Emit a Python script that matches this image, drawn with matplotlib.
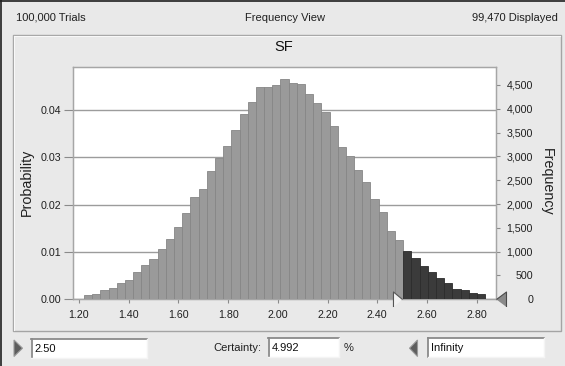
import numpy as np
import matplotlib
matplotlib.use("Agg")
import matplotlib.pyplot as plt
from matplotlib.patches import Rectangle, Polygon
from matplotlib.ticker import FixedLocator, FuncFormatter

# ---------------- data ----------------
trials_text = "100,000 Trials"
view_text = "Frequency View"
displayed_text = "99,470 Displayed"
chart_title = "SF"
displayed_count = 99470
bin_start = 1.2201
bin_width = 0.03293
frequencies = [100, 120, 190, 232, 345, 408, 570, 724, 851, 1055,
               1273, 1519, 1807, 2138, 2314, 2686, 2975, 3220, 3551, 3890,
               4135, 4459, 4459, 4508, 4626, 4542, 4521, 4317, 4121, 3925,
               3631, 3189, 3000, 2706, 2460, 2109, 1829, 1444, 1247, 1023,
               869, 694, 568, 449, 336, 217, 196, 126, 105]
lower_cutoff = 2.50
lower_text = "2.50"
upper_text = "Infinity"
certainty_text = "4.992"
x_ticks = [1.20, 1.40, 1.60, 1.80, 2.00, 2.20, 2.40, 2.60, 2.80]
prob_ticks = [0.00, 0.01, 0.02, 0.03, 0.04]
freq_ticks = [0, 500, 1000, 1500, 2000, 2500, 3000, 3500, 4000, 4500]
x_limits = (1.177, 2.8765)
freq_top = 4884

# ---------------- style ----------------
plt.rcParams['font.family'] = ['Liberation Sans', 'DejaVu Sans']
BG = '#e9e9e9'
W, H = 565, 366
PT = 72 / 100  # points per pixel at dpi 100

fig = plt.figure(figsize=(W / 100, H / 100), dpi=100, facecolor=BG)


def fx(x):
    return x / W


def fy(y):
    return 1 - y / H


def prect(x0, y0, x1, y1, **kw):
    r = Rectangle((fx(x0), fy(y1)), fx(x1) - fx(x0), fy(y0) - fy(y1),
                  transform=fig.transFigure, **kw)
    fig.add_artist(r)
    return r


def pline(xs, ys, **kw):
    fig.add_artist(plt.Line2D([fx(v) for v in xs], [fy(v) for v in ys],
                              transform=fig.transFigure, **kw))


# outer dark border (top and left)
pline([0.5, 0.5], [0, H], color='#202020', lw=1.2)
pline([0, W], [0.5, 0.5], color='#202020', lw=1.2)

# header texts
fig.text(fx(16), fy(18), trials_text, fontsize=8, ha='left', va='center', color='#202020')
fig.text(fx(285), fy(18), view_text, fontsize=8, ha='center', va='center', color='#202020')
fig.text(fx(558), fy(18), displayed_text, fontsize=8, ha='right', va='center', color='#202020')

# chart panel
prect(13, 35, 561, 331, facecolor='none', edgecolor='#a4a4a4', lw=1.0)
pline([14, 560], [36, 36], color='#f8f8f8', lw=0.8)
pline([14, 14], [36, 330], color='#f8f8f8', lw=0.8)
fig.text(fx(284), fy(47), chart_title, fontsize=10.5, ha='center', va='center', color='#101010')

# ---------------- axes ----------------
ax_l, ax_r, ax_t, ax_b = 73.3, 495.7, 66.7, 299.3
ax = fig.add_axes([fx(ax_l), fy(ax_b), fx(ax_r) - fx(ax_l), fy(ax_t) - fy(ax_b)])
ax.set_facecolor('white')
ax2 = ax.twinx()

edges = bin_start + bin_width * np.arange(len(frequencies))
colors = ['#3b3b3b' if e >= lower_cutoff - 1e-3 else '#9a9a9a' for e in edges]
edgecols = ['#2c2c2c' if e >= lower_cutoff - 1e-3 else '#868686' for e in edges]
ax2.bar(edges, frequencies, width=bin_width, align='edge', color=colors,
        edgecolor=edgecols, linewidth=0.6, zorder=3)

ax.set_xlim(*x_limits)
ax2.set_ylim(0, freq_top)
ax.set_ylim(0, freq_top / displayed_count)

ax.xaxis.set_major_locator(FixedLocator(x_ticks))
ax.xaxis.set_major_formatter(FuncFormatter(lambda v, p: f"{v:.2f}"))
ax.yaxis.set_major_locator(FixedLocator(prob_ticks))
ax.yaxis.set_major_formatter(FuncFormatter(lambda v, p: f"{v:.2f}"))
ax2.yaxis.set_major_locator(FixedLocator(freq_ticks))
ax2.yaxis.set_major_formatter(FuncFormatter(lambda v, p: f"{int(round(v)):,}"))

ax.yaxis.grid(True, color='#9c9c9c', lw=1.0, zorder=0)
ax.set_axisbelow(True)

ax.tick_params(axis='y', length=9 * PT, width=0.8, color='#8a8a8a', pad=3 * PT,
               labelsize=7.7, labelcolor='#202020')
ax.tick_params(axis='x', length=4 * PT, width=0.8, color='#8a8a8a', pad=7 * PT,
               labelsize=7.7, labelcolor='#202020')
right_tick_len = 4
right_label_edge = 533
ax2.tick_params(axis='y', length=right_tick_len * PT, width=0.8, color='#8a8a8a',
                pad=(right_label_edge - ax_r - right_tick_len) * PT,
                labelsize=7.7, labelcolor='#202020')
for lbl in ax2.get_yticklabels():
    lbl.set_horizontalalignment('right')

for a in (ax, ax2):
    for s in a.spines.values():
        s.set_color('#a6a6a6')
        s.set_linewidth(0.9)

fig.text(fx(26.7), fy(182.5), "Probability", rotation=90, fontsize=10.3,
         ha='center', va='center', color='#202020')
fig.text(fx(546.7), fy(182), "Frequency", rotation=270, fontsize=10.3,
         ha='center', va='center', color='#202020')

# grabber markers on the axis
right_tri = [(0, 0), (-9, 7.5), (-9, -7.5)]
left_tri = [(0, 0), (10, 7.5), (10, -7.5)]
ax2.plot([lower_cutoff], [0], marker=right_tri, markersize=13, color='#f2f2f2',
         markeredgecolor='#555555', markeredgewidth=0.8, clip_on=False, zorder=5)
ax2.plot([x_limits[1]], [0], marker=left_tri, markersize=14.4, color='#8a8a8a',
         markeredgecolor='#4a4a4a', markeredgewidth=0.8, clip_on=False, zorder=5)

# ---------------- bottom controls ----------------
def textbox(x0, y0, x1, y1, txt):
    prect(x0, y0, x1, y1, facecolor='white', edgecolor='none')
    pline([x0, x1], [y0 + 0.5, y0 + 0.5], color='#8a8a8a', lw=1.3)
    pline([x0 + 0.5, x0 + 0.5], [y0, y1], color='#8a8a8a', lw=1.3)
    pline([x0, x1], [y1, y1], color='#f4f4f4', lw=1.0)
    pline([x1, x1], [y0, y1], color='#f4f4f4', lw=1.0)
    fig.text(fx(x0 + 3), fy((y0 + y1) / 2 + 0.5), txt, fontsize=8, ha='left',
             va='center', color='#101010')


textbox(31, 338.7, 147, 357.7, lower_text)
textbox(268.3, 337.7, 339.3, 356.7, certainty_text)
textbox(427.7, 337.7, 544, 357, upper_text)
fig.text(fx(261.7), fy(348), "Certainty:", fontsize=8, ha='right', va='center', color='#202020')
fig.text(fx(348.5), fy(348), "%", fontsize=8, ha='center', va='center', color='#202020')

fig.add_artist(Polygon([(fx(14), fy(340)), (fx(14), fy(356.5)), (fx(22.5), fy(348.2))],
                       closed=True, transform=fig.transFigure, facecolor='#5e5e5e',
                       edgecolor='#9a9a9a', lw=0.8))
fig.add_artist(Polygon([(fx(417.5), fy(340)), (fx(417.5), fy(356.5)), (fx(409.5), fy(348.2))],
                       closed=True, transform=fig.transFigure, facecolor='#5e5e5e',
                       edgecolor='#9a9a9a', lw=0.8))

fig.savefig("out.png", dpi=100, facecolor=BG)
